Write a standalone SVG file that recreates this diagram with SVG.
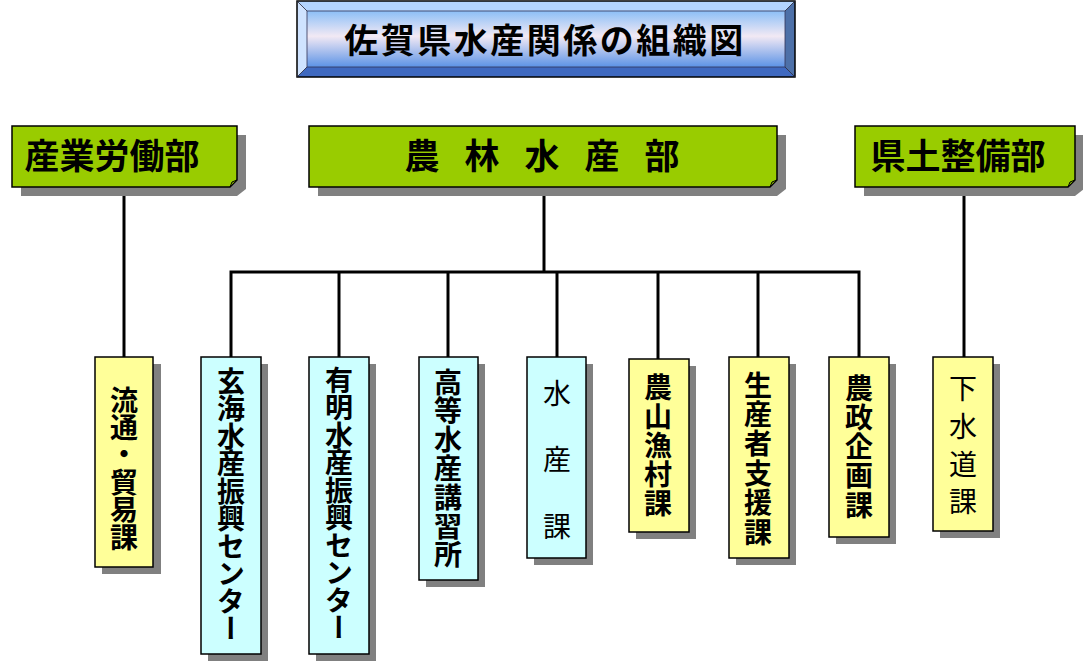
<svg xmlns="http://www.w3.org/2000/svg" width="1083" height="672" viewBox="0 0 1083 672">
<defs>
<linearGradient id="face" x1="0" y1="0" x2="0" y2="1">
<stop offset="0" stop-color="#8CBFF7"/>
<stop offset="0.45" stop-color="#F2E9F4"/>
<stop offset="1" stop-color="#5C93E6"/>
</linearGradient>
</defs>
<style>
.sh{fill:#808080}
.hd{fill:#99CC00;stroke:#000;stroke-width:1.5}
.fold{fill:#7AA300;stroke:#000;stroke-width:1}
.yel{fill:#FFFF99;stroke:#000;stroke-width:1.5}
.cya{fill:#CCFFFF;stroke:#000;stroke-width:1.5}
.ln{stroke:#000;stroke-width:3;fill:none}
.t{font-family:"Noto Sans CJK JP","Noto Sans CJK SC",sans-serif;fill:#000}
.h{font-size:35px;font-weight:bold}
.v{font-size:28px;font-weight:bold;writing-mode:vertical-rl}
.s{font-size:28px;font-weight:normal;text-anchor:middle;dominant-baseline:central}
</style>
<rect width="1083" height="672" fill="#fff"/>

<g id="title">
<polygon points="297,1 795,1 785,11 307,11" fill="#B3D5FF"/>
<polygon points="297,1 307,11 307,67 297,77" fill="#CFE3FF"/>
<polygon points="795,1 795,77 785,67 785,11" fill="#4D70A8"/>
<polygon points="297,77 307,67 785,67 795,77" fill="#3F69C0"/>
<rect x="307" y="11" width="478" height="56" fill="url(#face)"/>
<rect x="297" y="1" width="498" height="76" fill="none" stroke="#000" stroke-width="1.5"/>
<path d="M297,1 L307,11 M795,1 L785,11 M297,77 L307,67 M795,77 L785,67" stroke="#223" stroke-width="0.8"/>
<rect x="307" y="11" width="478" height="56" fill="none" stroke="#335" stroke-width="0.8"/>
<text class="t" x="545" y="53" font-size="34" font-weight="bold" text-anchor="middle" letter-spacing="2.5">佐賀県水産関係の組織図</text>
</g>

<g id="connectors">
<line class="ln" x1="124" y1="187" x2="124" y2="357"/>
<line class="ln" x1="964" y1="187" x2="964" y2="357"/>
<line class="ln" x1="544" y1="187" x2="544" y2="272"/>
<polyline class="ln" points="231,357 231,272 859,272 859,357"/>
<line class="ln" x1="339" y1="272" x2="339" y2="357"/>
<line class="ln" x1="448" y1="272" x2="448" y2="357"/>
<line class="ln" x1="557" y1="272" x2="557" y2="357"/>
<line class="ln" x1="658" y1="272" x2="658" y2="359"/>
<line class="ln" x1="758" y1="272" x2="758" y2="357"/>
</g>

<g id="dept-sangyo">
<path class="sh" d="M21,135 H246 V189 L237,196 H21 Z"/>
<path class="hd" d="M12,126 H237 V180 L230,187 H12 Z"/>
<path class="fold" d="M237,180 L230,187 L232,182 Z"/>
<text class="t h" x="112" y="169" text-anchor="middle">産業労働部</text>
</g>

<g id="dept-norin">
<path class="sh" d="M318,135 H786 V189 L777,196 H318 Z"/>
<path class="hd" d="M309,126 H777 V180 L770,187 H309 Z"/>
<path class="fold" d="M777,180 L770,187 L772,182 Z"/>
<text class="t h" x="404.5" y="169" letter-spacing="-5">農　林　水　産　部</text>
</g>

<g id="dept-kendo">
<path class="sh" d="M864,135 H1084 V189 L1075,196 H864 Z"/>
<path class="hd" d="M855,126 H1075 V180 L1068,187 H855 Z"/>
<path class="fold" d="M1075,180 L1068,187 L1070,182 Z"/>
<text class="t h" x="958" y="169" text-anchor="middle">県土整備部</text>
</g>

<g id="ryutsu">
<rect class="sh" x="102" y="364" width="59" height="210"/>
<rect class="yel" x="95" y="357" width="58" height="210"/>
<text class="t v" x="124" y="386" letter-spacing="-0.6">流通・貿易課</text>
</g>

<g id="genkai">
<rect class="sh" x="208" y="364" width="60" height="297"/>
<rect class="cya" x="201" y="357" width="60" height="297"/>
<text class="t v" x="231" y="367" letter-spacing="-0.5">玄海水産振興センター</text>
</g>

<g id="ariake">
<rect class="sh" x="316" y="364" width="60" height="297"/>
<rect class="cya" x="309" y="357" width="60" height="297"/>
<text class="t v" x="339" y="366" letter-spacing="-0.5">有明水産振興センター</text>
</g>

<g id="koto">
<rect class="sh" x="426" y="364" width="59" height="223"/>
<rect class="cya" x="419" y="357" width="59" height="223"/>
<text class="t v" x="448" y="368" letter-spacing="0.8">高等水産講習所</text>
</g>

<g id="suisan">
<rect class="sh" x="534" y="364" width="59" height="201"/>
<rect class="cya" x="527" y="357" width="59" height="201"/>
<text class="t s" x="557" y="392">水</text>
<text class="t s" x="557" y="458">産</text>
<text class="t s" x="557" y="525">課</text>
</g>

<g id="sanson">
<rect class="sh" x="636" y="366" width="60" height="173"/>
<rect class="yel" x="629" y="359" width="60" height="173"/>
<text class="t v" x="658" y="373" letter-spacing="1">農山漁村課</text>
</g>

<g id="seisansha">
<rect class="sh" x="736" y="364" width="60" height="201"/>
<rect class="yel" x="729" y="357" width="60" height="201"/>
<text class="t v" x="758" y="371" letter-spacing="1.4">生産者支援課</text>
</g>

<g id="nosei">
<rect class="sh" x="836" y="364" width="60" height="180"/>
<rect class="yel" x="829" y="357" width="60" height="180"/>
<text class="t v" x="859" y="374" letter-spacing="1.25">農政企画課</text>
</g>

<g id="gesuido">
<rect class="sh" x="940" y="364" width="60" height="174"/>
<rect class="yel" x="933" y="357" width="60" height="174"/>
<text class="t s" x="963" y="387">下</text>
<text class="t s" x="963" y="425">水</text>
<text class="t s" x="963" y="463">道</text>
<text class="t s" x="963" y="500">課</text>
</g>
</svg>
